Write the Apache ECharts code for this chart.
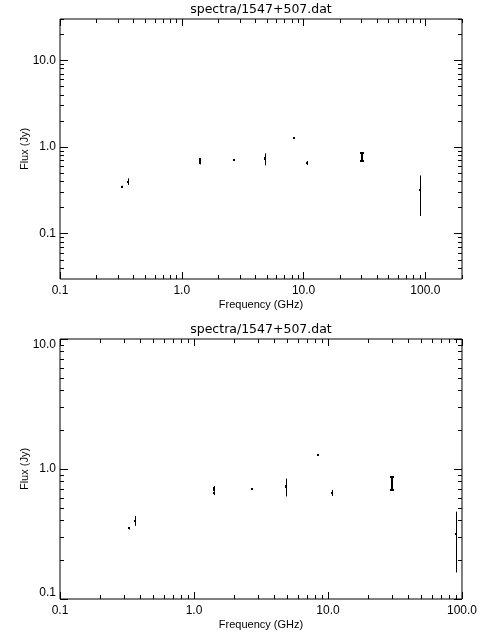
<!DOCTYPE html>
<html><head><meta charset="utf-8">
<script src="https://cdn.jsdelivr.net/npm/echarts@6/dist/echarts.min.js"></script>
<style>html,body{margin:0;padding:0;background:#fff}#c{width:480px;height:640px}</style>
</head><body><div id="c"></div>
<script>
const titleText = 'spectra/1547+507.dat';
const xName = 'Frequency (GHz)';
const yName = 'Flux (Jy)';

// measurements (GHz, Jy, 1-sigma Jy)
const freqGHz = [0.325, 0.365, 1.40, 1.40, 1.42, 2.70, 4.85, 4.85, 8.40, 10.7, 90.0];
const fluxJy  = [0.350, 0.400, 0.720, 0.685, 0.650, 0.700, 0.730, 0.740, 1.280, 0.655, 0.315];
const fluxErr = [0.008, 0.035, 0.020, 0.015, 0.020, 0.010, 0.115, 0.020, 0.010, 0.035, 0.155];
// 30 GHz measurement (drawn with caps)
const capFreqGHz = [30.0];
const capFluxJy  = [0.775];
const capFluxErr = [0.088];

// tick values
const xMajor = [0.1, 1, 10, 100];
const xMinor1 = [0.2,0.3,0.4,0.5,0.6,0.7,0.8,0.9,2,3,4,5,6,7,8,9,20,30,40,50,60,70,80,90,200];
const xMinor2 = [0.2,0.3,0.4,0.5,0.6,0.7,0.8,0.9,2,3,4,5,6,7,8,9,20,30,40,50,60,70,80,90];
const yMajor = [0.1, 1, 10];
const yMinor1 = [0.04,0.05,0.06,0.07,0.08,0.09,0.2,0.3,0.4,0.5,0.6,0.7,0.8,0.9,2,3,4,5,6,7,8,9,20,30];
const yMinor2 = [0.2,0.3,0.4,0.5,0.6,0.7,0.8,0.9,2,3,4,5,6,7,8,9];

const X1 = [0.1, 200], Y1 = [0.03, 30];
const X2 = [0.1, 100], Y2 = [0.1, 10];

const LBL = {color:'#000', fontFamily:'Liberation Sans', fontSize:12};
const NM = {color:'#000', fontFamily:'Liberation Sans', fontSize:11};
const fmt = v => Number(v).toFixed(1);

function xAx(grid, pos, ticks, len, labels, ext, withName) {
  return {type:'log', logBase:10, gridIndex:grid, position:pos, min:ext[0], max:ext[1],
    axisLine:{show:false}, splitLine:{show:false}, minorTick:{show:false},
    axisTick:{show:true, inside:true, length:len, customValues:ticks, lineStyle:{color:'#000', width:1}},
    axisLabel:Object.assign({show:labels, customValues:ticks, formatter:fmt, margin:6}, LBL),
    name: withName ? xName : '', nameLocation:'middle', nameGap:20, nameMoveOverlap:false, nameTextStyle:NM};
}
function yAx(grid, pos, ticks, len, labels, ext, withName, edgeAlign) {
  const lab = Object.assign({show:labels, customValues:ticks, formatter:fmt, margin:4}, LBL);
  if (edgeAlign) { lab.verticalAlignMinLabel = 'bottom'; lab.verticalAlignMaxLabel = 'top'; }
  return {type:'log', logBase:10, gridIndex:grid, position:pos, min:ext[0], max:ext[1],
    axisLine:{show:false}, splitLine:{show:false}, minorTick:{show:false},
    axisTick:{show:true, inside:true, length:len, customValues:ticks, lineStyle:{color:'#000', width:1}},
    axisLabel:lab,
    name: withName ? yName : '', nameLocation:'middle', nameGap:30, nameMoveOverlap:false, nameTextStyle:NM};
}

function errRender(lw, cap) {
  return function(params, api) {
    const x = api.value(0), y = api.value(1), e = api.value(2);
    const p = api.coord([x, y]);
    const t = api.coord([x, y + e]);
    const b = api.coord([x, Math.max(y - e, 1e-4)]);
    const cx = Math.round(p[0]) + (lw % 2 ? 0.5 : 0);
    const kids = [
      {type:'line', shape:{x1:cx, y1:t[1], x2:cx, y2:b[1]}, style:{stroke:'#000', lineWidth:lw}},
      {type:'rect', shape:{x:Math.round(p[0]) - 1, y:Math.round(p[1]) - 1, width:2, height:2}, style:{fill:'#000'}}
    ];
    if (cap) {
      kids.push({type:'line', shape:{x1:cx - cap, y1:Math.round(t[1]) , x2:cx + cap, y2:Math.round(t[1])}, style:{stroke:'#000', lineWidth:2}});
      kids.push({type:'line', shape:{x1:cx - cap, y1:Math.round(b[1]), x2:cx + cap, y2:Math.round(b[1])}, style:{stroke:'#000', lineWidth:2}});
    }
    return {type:'group', children:kids};
  };
}

const mainData = freqGHz.map((f, i) => [f, fluxJy[i], fluxErr[i]]);
const capData = capFreqGHz.map((f, i) => [f, capFluxJy[i], capFluxErr[i]]);

const chart = echarts.init(document.getElementById('c'), null, {renderer:'canvas'});
chart.setOption({
  animation:false,
  backgroundColor:'#fff',
  grid:[
    {left:60, top:19, width:402, height:260, show:true, borderColor:'#000', borderWidth:1, backgroundColor:'transparent'},
    {left:60, top:339, width:402, height:260, show:true, borderColor:'#000', borderWidth:1, backgroundColor:'transparent'}
  ],
  graphic:[
    {type:'text', x:261, y:10, style:{text:titleText, textAlign:'center', textVerticalAlign:'middle', font:'12.5px "DejaVu Sans"', fill:'#000'}},
    {type:'text', x:261, y:330, style:{text:titleText, textAlign:'center', textVerticalAlign:'middle', font:'12.5px "DejaVu Sans"', fill:'#000'}}
  ],
  xAxis:[
    xAx(0,'bottom',xMajor,7,true,X1,true),
    xAx(0,'bottom',xMinor1,4,false,X1,false),
    xAx(0,'top',xMajor,7,false,X1,false),
    xAx(0,'top',xMinor1,4,false,X1,false),
    xAx(1,'bottom',xMajor,7,true,X2,true),
    xAx(1,'bottom',xMinor2,4,false,X2,false),
    xAx(1,'top',xMajor,7,false,X2,false),
    xAx(1,'top',xMinor2,4,false,X2,false)
  ],
  yAxis:[
    yAx(0,'left',yMajor,8,true,Y1,true,false),
    yAx(0,'left',yMinor1,4,false,Y1,false,false),
    yAx(0,'right',yMajor,8,false,Y1,false,false),
    yAx(0,'right',yMinor1,4,false,Y1,false,false),
    yAx(1,'left',yMajor,8,true,Y2,true,true),
    yAx(1,'left',yMinor2,4,false,Y2,false,false),
    yAx(1,'right',yMajor,8,false,Y2,false,false),
    yAx(1,'right',yMinor2,4,false,Y2,false,false)
  ],
  series:[
    {type:'custom', xAxisIndex:0, yAxisIndex:0, data:mainData, renderItem:errRender(1, 0), silent:true},
    {type:'custom', xAxisIndex:0, yAxisIndex:0, data:capData, renderItem:errRender(2, 2), silent:true},
    {type:'custom', xAxisIndex:4, yAxisIndex:4, data:mainData, renderItem:errRender(1, 0), silent:true},
    {type:'custom', xAxisIndex:4, yAxisIndex:4, data:capData, renderItem:errRender(2, 2), silent:true}
  ]
});
</script></body></html>
